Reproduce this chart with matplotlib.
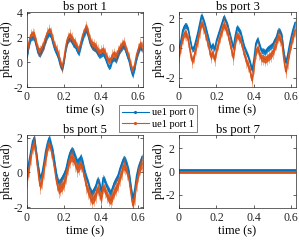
import numpy as np
import matplotlib
matplotlib.use("Agg")
import matplotlib.pyplot as plt
from matplotlib.lines import Line2D

plt.rcParams['font.family'] = ['Liberation Serif', 'DejaVu Serif']

t = np.round(np.arange(0, 0.625, 0.01), 2)

p1_orange = [0.6, 1.6, 2.2, 2.3, 2.2, 1.6, 1.0, 0.9, 1.2, 1.5,
             2.0, 2.4, 2.6, 2.4, 1.8, 1.3, 1.0, 0.6, 0.0, -0.4,
             0.4, 1.4, 2.0, 2.2, 2.0, 1.7, 1.6, 1.2, 1.0, 1.6,
             2.2, 2.6, 2.9, 2.4, 1.8, 1.5, 1.4, 1.3, 1.0, 0.8,
             0.9, 1.0, 0.8, 0.4, 0.1, 0.2, 0.6, 0.7, 0.5, 0.9,
             1.2, 1.4, 1.6, 1.3, 0.8, 0.4, -0.3, -0.7, -0.2, 0.6,
             1.1, 1.5, 1.3]
p1_blue = [0.4, 1.3, 1.9, 2.0, 1.9, 1.3, 0.7, 0.6, 0.9, 1.2,
           1.7, 2.1, 2.3, 2.1, 1.5, 1.0, 0.7, 0.3, -0.3, -0.6,
           0.1, 1.1, 1.7, 1.9, 1.7, 1.4, 1.3, 0.9, 0.7, 1.3,
           1.9, 2.3, 2.6, 2.1, 1.5, 1.2, 1.1, 1.0, 0.7, 0.5,
           0.6, 0.7, 0.4, 0.0, -0.4, -0.3, 0.2, 0.3, 0.1, 0.5,
           0.9, 1.1, 1.3, 1.0, 0.5, 0.1, -0.6, -1.1, -0.5, 0.3,
           0.8, 1.2, 1.0]

p3_blue = [-0.1, 0.5, 1.2, 1.5, 1.5, 1.2, 0.5, -0.1, 0.0, 0.5,
           1.0, 1.6, 2.2, 1.9, 1.5, 1.0, 0.5, 0.0, 0.2, -0.1,
           0.5, 0.9, 1.3, 1.7, 2.1, 1.8, 1.5, 1.0, 0.5, 0.0,
           0.8, 1.4, 1.2, 1.0, 0.5, 0.0, -0.3, -0.6, -1.0, -1.5,
           -0.8, 0.3, 0.6, 0.2, -0.2, -0.2, -0.3, -0.1, 0.0, 0.1,
           0.2, 0.5, 0.7, 1.2, 1.1, 0.8, -0.3, -1.0, -0.5, 0.2,
           0.8, 1.3, 1.7]
p3_orange = [-0.6, 0.1, 0.7, 1.0, 0.9, 0.5, -0.3, -0.9, -0.6, 0.0,
             0.5, 1.1, 1.7, 1.4, 1.0, 0.5, 0.0, -0.6, -0.3, -0.8,
             -0.2, 0.3, 0.8, 1.2, 1.6, 1.3, 1.0, 0.4, -0.1, -0.7,
             0.3, 0.9, 0.7, 0.5, 0.0, -0.5, -0.9, -1.2, -1.6, -2.2,
             -1.3, -0.3, 0.0, -0.4, -0.7, -0.7, -0.8, -0.7, -0.6, -0.5,
             -0.3, 0.0, 0.3, 0.8, 0.6, 0.3, -0.8, -1.6, -1.0, -0.3,
             0.3, 0.8, 1.2]

p5_blue = [0.0, 0.6, 1.2, 1.8, 2.0, 1.2, 0.4, -0.3, -0.1, 0.5,
           1.2, 1.7, 2.0, 1.6, 1.2, 0.5, -0.2, -0.6, -0.5, -0.3,
           -0.1, 0.2, 0.7, 1.1, 1.3, 1.2, 0.9, 0.6, 0.7, 0.9,
           0.6, 0.1, -0.3, -0.6, -1.0, -1.2, -1.0, -0.8, -0.4, -0.6,
           -1.1, -0.3, -0.5, -0.8, -1.0, -1.2, -0.9, -0.6, -0.4, -0.2,
           0.2, 0.5, 0.8, 0.7, 0.4, 0.0, -0.8, -1.5, -1.0, -0.2,
           0.3, 0.6, 0.9]
p5_orange = [-0.4, 0.2, 0.9, 1.5, 1.7, 0.9, 0.0, -0.8, -0.5, 0.1,
             0.8, 1.4, 1.7, 1.3, 0.8, 0.1, -0.6, -1.0, -0.9, -0.8,
             -0.6, -0.2, 0.3, 0.7, 0.9, 0.8, 0.5, 0.2, 0.3, 0.5,
             0.2, -0.3, -0.8, -1.1, -1.4, -1.6, -1.5, -1.3, -0.9, -1.1,
             -1.6, -0.8, -1.0, -1.3, -1.5, -1.6, -1.4, -1.1, -0.9, -0.7,
             -0.3, 0.0, 0.4, 0.3, 0.0, -0.4, -1.2, -1.9, -1.4, -0.6,
             -0.1, 0.3, 0.5]

p7_blue = [0.1] * len(t)
p7_orange = [0.0] * len(t)

# noise half-widths
spread_blue = 0.2
spread_orange = 0.45

titles = ["bs port 1", "bs port 3", "bs port 5", "bs port 7"]
series = [(p1_blue, p1_orange), (p3_blue, p3_orange),
          (p5_blue, p5_orange), (p7_blue, p7_orange)]
ylims = [(-2, 4.05), (-2.64, 2.42), (-2.04, 2.15), (-np.pi, np.pi)]
yticks = [[-2, 0, 2, 4], [-2, 0, 2], [-2, 0, 2], [-2, 0, 2]]
legend_labels = ["ue1 port 0", "ue1 port 1"]

BLUE = "#0072BD"
ORANGE = "#D95319"

W, H = 299, 242
fig = plt.figure(figsize=(W / 100, H / 100), dpi=100)

boxes = [(27, 12, 143, 87), (179, 12, 296, 87),
         (27, 135, 143, 208), (179, 135, 296, 208)]

for i, (x0, y0, x1, y1) in enumerate(boxes):
    ax = fig.add_axes([x0 / W, 1 - y1 / H, (x1 - x0) / W, (y1 - y0) / H])
    b, o = series[i]
    b = np.array(b)
    o = np.array(o)
    if i < 3:
        ax.fill_between(t, b - spread_blue, b + spread_blue, color=BLUE, lw=0, alpha=0.9)
        ax.plot(t, b, color=BLUE, lw=1.0)
        ax.errorbar(t, o, yerr=spread_orange, fmt='none', ecolor=ORANGE,
                    elinewidth=0.5, capsize=0, alpha=0.6)
        ax.fill_between(t, o - 0.25, o + 0.25, color=ORANGE, lw=0, alpha=0.9)
        ax.plot(t, o, color=ORANGE, lw=1.0)
    else:
        ax.plot(t, b, color=BLUE, lw=2.0)
        ax.plot(t, o, color=ORANGE, lw=2.0)
    ax.set_xlim(0, 0.625)
    ax.set_ylim(*ylims[i])
    ax.set_xticks([0, 0.2, 0.4, 0.6])
    ax.set_xticklabels(["0", "0.2", "0.4", "0.6"])
    ax.set_yticks(yticks[i])
    ax.set_yticklabels([str(v) for v in yticks[i]])
    ax.tick_params(direction='in', length=2, width=0.5, labelsize=8.5,
                   colors='#262626', pad=3, top=True, right=True)
    for s in ax.spines.values():
        s.set_color('#262626')
        s.set_linewidth(0.5)
    ax.set_title(titles[i], fontsize=9, pad=1.5, color='black')
    ax.set_xlabel("time (s)", fontsize=9, labelpad=1)
    ax.set_ylabel("phase (rad)", fontsize=9, labelpad=0)

handles = [Line2D([], [], color=BLUE, lw=0.8, marker='.', markersize=2.5),
           Line2D([], [], color=ORANGE, lw=0.8, marker='.', markersize=2.5)]
leg = fig.legend(handles, legend_labels, loc='center',
                 bbox_to_anchor=(158 / W, 1 - 118.5 / H), fontsize=7.5,
                 frameon=True, fancybox=False, edgecolor='#262626',
                 handlelength=2.6, handletextpad=0.3, borderpad=0.3,
                 labelspacing=0.2, numpoints=1, borderaxespad=0)
leg.get_frame().set_linewidth(0.5)

fig.savefig("out.png", dpi=100)
